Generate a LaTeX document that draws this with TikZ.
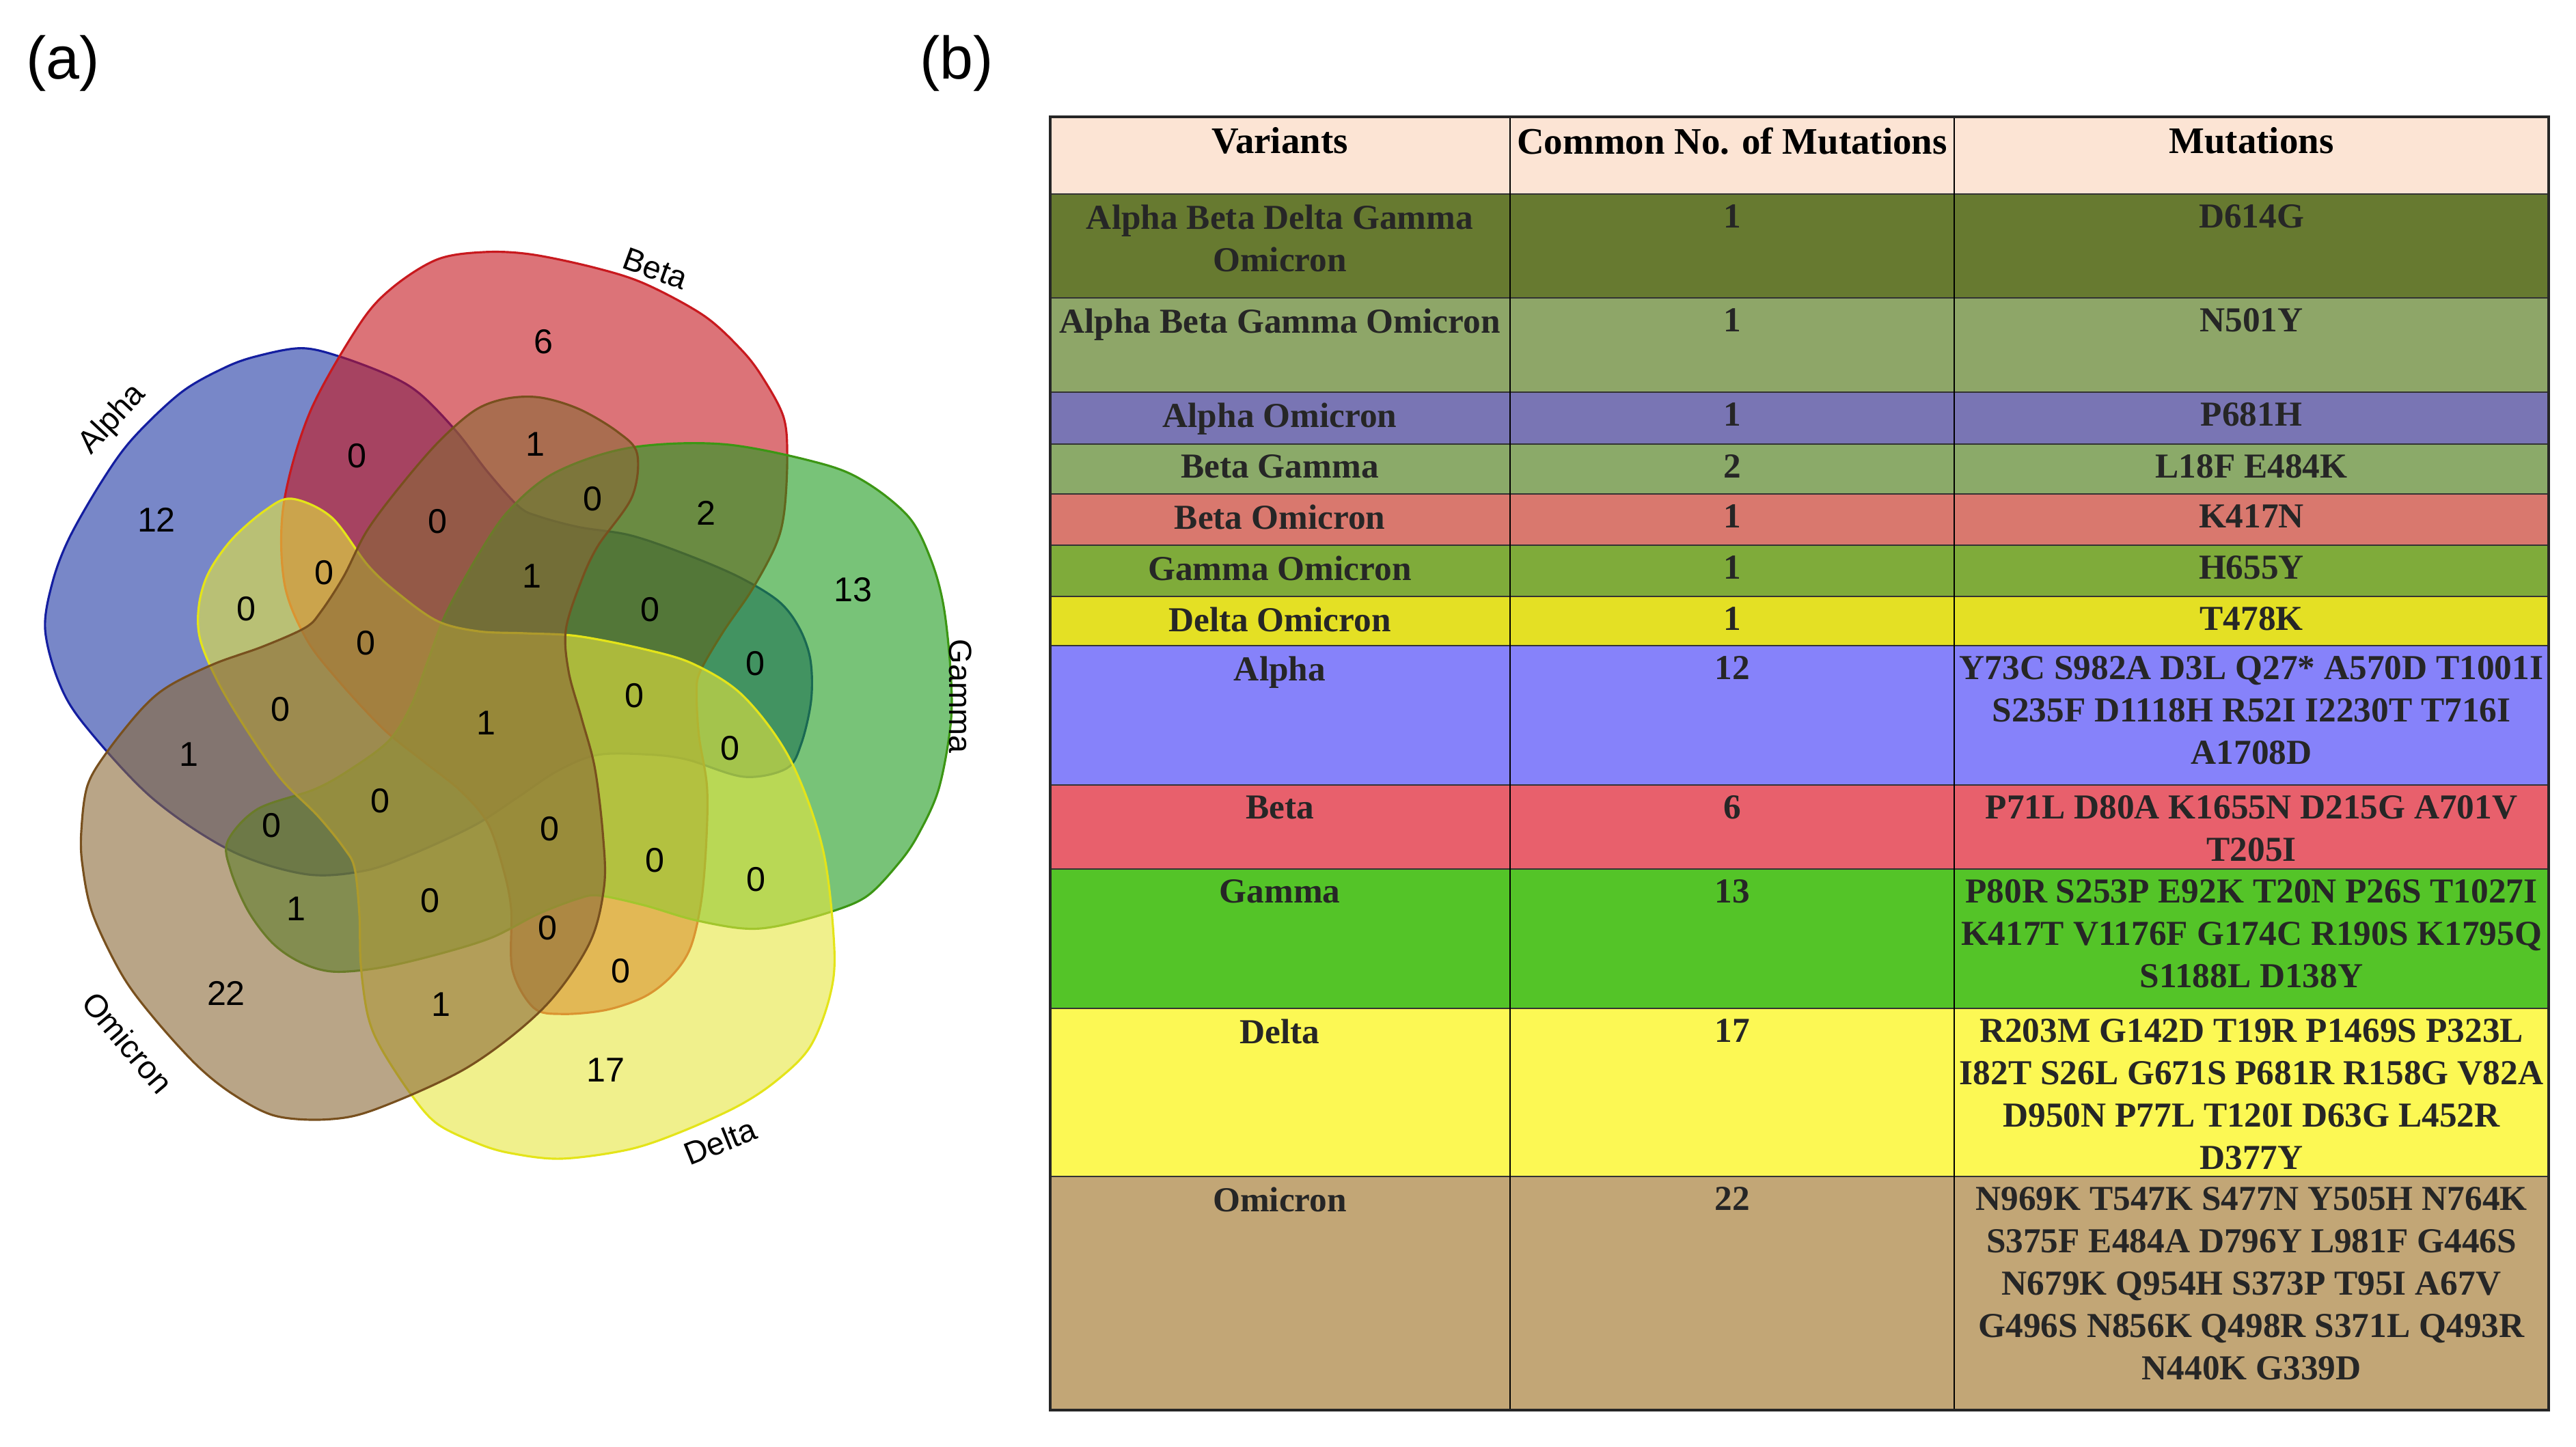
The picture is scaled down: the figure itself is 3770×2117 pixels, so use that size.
\documentclass[tikz,border=0pt]{standalone}
\usepackage{fontspec}
\setmainfont{Liberation Serif}
\setsansfont{Liberation Sans}
\usepackage{tikz}
\usetikzlibrary{positioning}

\definecolor{alphafill}{RGB}{30,55,163}
\definecolor{alphaline}{RGB}{20,30,160}
\definecolor{betafill}{RGB}{197,22,30}
\definecolor{betaline}{RGB}{200,25,30}
\definecolor{gammafill}{RGB}{30,155,30}
\definecolor{gammaline}{RGB}{60,150,20}
\definecolor{deltafill}{RGB}{230,230,63}
\definecolor{deltaline}{RGB}{228,228,25}
\definecolor{omifill}{RGB}{138,105,55}
\definecolor{omiline}{RGB}{120,80,30}

\definecolor{rowhead}{RGB}{252,228,212}
\definecolor{rowABDGO}{RGB}{103,122,48}
\definecolor{rowABGO}{RGB}{142,166,104}
\definecolor{rowAO}{RGB}{121,117,180}
\definecolor{rowBG}{RGB}{139,170,105}
\definecolor{rowBO}{RGB}{217,120,110}
\definecolor{rowGO}{RGB}{127,171,58}
\definecolor{rowDO}{RGB}{228,224,36}
\definecolor{rowA}{RGB}{134,130,250}
\definecolor{rowB}{RGB}{232,96,108}
\definecolor{rowG}{RGB}{84,196,40}
\definecolor{rowD}{RGB}{252,248,84}
\definecolor{rowO}{RGB}{194,166,118}

\tikzstyle{blob} = [line width=0.9pt, fill opacity=0.6]
\tikzstyle{count} = [font=\sffamily\fontsize{14.3}{16}\selectfont, inner sep=0]
\tikzstyle{setname} = [font=\sffamily\fontsize{13.3}{15}\selectfont, inner sep=0]
\tikzstyle{panel} = [font=\sffamily\fontsize{25}{30}\selectfont, inner sep=0]
\tikzstyle{cell} = [anchor=north, inner sep=0, align=center, text=black!85, font=\bfseries\fontsize{14.6}{17.6}\selectfont]
\tikzstyle{headcell} = [cell, text=black, font=\bfseries\fontsize{15.6}{17.6}\selectfont]
\tikzstyle{rowrule} = [line width=0.8pt, black!80]
\tikzstyle{colrule} = [line width=0.4pt, black]

% one set of the five-way diagram, around the centre
\newcommand{\vennblob}{plot[smooth cycle, tension=0.55] coordinates {
  (-298,-315) (-240,-288) (-187,-218) (-143,-177) (-85,-136) (-25,-121)
  (45,-118) (120,-114) (217,-95) (290,-73) (363,-26) (431,66) (479,197)
  (496,343) (489,415) (460,488) (411,537) (353,575) (266,614) (193,638)
  (96,651) (23,643) (-25,629) (-85,600) (-124,556) (-168,488) (-187,440)
  (-197,367) (-199,294) (-206,226) (-221,197) (-260,149) (-313,96)
  (-361,28) (-405,-45) (-432,-109) (-434,-158) (-420,-206) (-386,-255)
  (-337,-298)}}

\begin{document}
\begin{tikzpicture}[x=0.01cm, y=-0.01cm]
  \useasboundingbox (0,0) rectangle (3770,2117);

  \node[panel] (pa) at (92,93) {(a)};
  \node[panel] (pb) at (1400,93) {(b)};

  % Venn diagram
  \coordinate (vc) at (725,1045);
  \filldraw[blob, fill=alphafill, draw=alphaline, shift={(vc)}, rotate=-144] \vennblob;
  \filldraw[blob, fill=betafill, draw=betaline, shift={(vc)}, rotate=144] \vennblob;
  \filldraw[blob, fill=gammafill, draw=gammaline, shift={(vc)}, rotate=72] \vennblob;
  \filldraw[blob, fill=deltafill, draw=deltaline, shift={(vc)}] \vennblob;
  \filldraw[blob, fill=omifill, draw=omiline, shift={(vc)}, rotate=-72] \vennblob;

  \node[setname, rotate=47] (lAlpha) at (165,614) {Alpha};
  \node[setname, rotate=-20] (lBeta) at (959,393) {Beta};
  \node[setname, rotate=-90] (lGamma) at (1406,1019) {Gamma};
  \node[setname, rotate=22] (lDelta) at (1054,1671) {Delta};
  \node[setname, rotate=-50] (lOmicron) at (187,1526) {Omicron};

  \node[count] (cA) at (229,761) {12};
  \node[count] (cB) at (795,500) {6};
  \node[count] (cG) at (1248,863) {13};
  \node[count] (cD) at (886,1566) {17};
  \node[count] (cO) at (331,1454) {22};
  \node[count] (cAB) at (522,667) {0};
  \node[count] (cBO) at (783,650) {1};
  \node[count] (cBGO) at (867,730) {0};
  \node[count] (cBG) at (1033,751) {2};
  \node[count] (cABO) at (640,763) {0};
  \node[count] (cABGO) at (778,843) {1};
  \node[count] (cABD) at (474,838) {0};
  \node[count] (cAD) at (360,891) {0};
  \node[count] (cABG) at (951,892) {0};
  \node[count] (cAG) at (1105,971) {0};
  \node[count] (cABDO) at (535,941) {0};
  \node[count] (cABGD) at (928,1018) {0};
  \node[count] (cABGDO) at (711,1058) {1};
  \node[count] (cADO) at (410,1038) {0};
  \node[count] (cAGD) at (1068,1095) {0};
  \node[count] (cAO) at (276,1104) {1};
  \node[count] (cAGDO) at (556,1172) {0};
  \node[count] (cAGO) at (397,1208) {0};
  \node[count] (cBGDO) at (804,1213) {0};
  \node[count] (cBGD) at (958,1259) {0};
  \node[count] (cGD) at (1106,1287) {0};
  \node[count] (cGO) at (433,1330) {1};
  \node[count] (cGDO) at (629,1318) {0};
  \node[count] (cBDO) at (801,1358) {0};
  \node[count] (cBD) at (908,1421) {0};
  \node[count] (cDO) at (645,1470) {1};

  % table
  \foreach \ytop/\ybot/\rowcol in {171/284/rowhead, 284/436/rowABDGO, 436/574/rowABGO,
      574/650/rowAO, 650/723/rowBG, 723/798/rowBO, 798/873/rowGO, 873/945/rowDO,
      945/1149/rowA, 1149/1272/rowB, 1272/1476/rowG, 1476/1722/rowD, 1722/2064/rowO}
    \fill[\rowcol] (1537,\ytop) rectangle (3730,\ybot);
  \foreach \yy in {284,436,574,650,723,798,873,945,1149,1272,1476,1722}
    \draw[rowrule] (1537,\yy) -- (3730,\yy);
  \draw[colrule] (2210,171) -- (2210,2064);
  \draw[colrule] (2860,171) -- (2860,2064);
  \draw[line width=0.9pt, black!85] (1537,171) rectangle (3730,2064);

  \node[headcell] (hVar) at (1873,186) {Variants};
  \node[headcell] (hNum) at (2535,186) {Common No. of Mutations};
  \node[headcell] (hMut) at (3295,186) {Mutations};

  \node[cell] (v1) at (1873,299) {Alpha Beta Delta Gamma\\Omicron};
  \node[cell] (n1) at (2535,299) {1};
  \node[cell] (m1) at (3295,299) {D614G};

  \node[cell] (v2) at (1873,451) {Alpha Beta Gamma Omicron};
  \node[cell] (n2) at (2535,451) {1};
  \node[cell] (m2) at (3295,451) {N501Y};

  \node[cell] (v3) at (1873,589) {Alpha Omicron};
  \node[cell] (n3) at (2535,589) {1};
  \node[cell] (m3) at (3295,589) {P681H};

  \node[cell] (v4) at (1873,665) {Beta Gamma};
  \node[cell] (n4) at (2535,665) {2};
  \node[cell] (m4) at (3295,665) {L18F E484K};

  \node[cell] (v5) at (1873,738) {Beta Omicron};
  \node[cell] (n5) at (2535,738) {1};
  \node[cell] (m5) at (3295,738) {K417N};

  \node[cell] (v6) at (1873,813) {Gamma Omicron};
  \node[cell] (n6) at (2535,813) {1};
  \node[cell] (m6) at (3295,813) {H655Y};

  \node[cell] (v7) at (1873,888) {Delta Omicron};
  \node[cell] (n7) at (2535,888) {1};
  \node[cell] (m7) at (3295,888) {T478K};

  \node[cell] (v8) at (1873,960) {Alpha};
  \node[cell] (n8) at (2535,960) {12};
  \node[cell] (m8) at (3295,960) {Y73C S982A D3L Q27* A570D T1001I\\S235F D1118H R52I I2230T T716I\\A1708D};

  \node[cell] (v9) at (1873,1164) {Beta};
  \node[cell] (n9) at (2535,1164) {6};
  \node[cell] (m9) at (3295,1164) {P71L D80A K1655N D215G A701V\\T205I};

  \node[cell] (v10) at (1873,1287) {Gamma};
  \node[cell] (n10) at (2535,1287) {13};
  \node[cell] (m10) at (3295,1287) {P80R S253P E92K T20N P26S T1027I\\K417T V1176F G174C R190S K1795Q\\S1188L D138Y};

  \node[cell] (v11) at (1873,1491) {Delta};
  \node[cell] (n11) at (2535,1491) {17};
  \node[cell] (m11) at (3295,1491) {R203M G142D T19R P1469S P323L\\I82T S26L G671S P681R R158G V82A\\D950N P77L T120I D63G L452R\\D377Y};

  \node[cell] (v12) at (1873,1737) {Omicron};
  \node[cell] (n12) at (2535,1737) {22};
  \node[cell] (m12) at (3295,1737) {N969K T547K S477N Y505H N764K\\S375F E484A D796Y L981F G446S\\N679K Q954H S373P T95I A67V\\G496S N856K Q498R S371L Q493R\\N440K G339D};
\end{tikzpicture}
\end{document}
